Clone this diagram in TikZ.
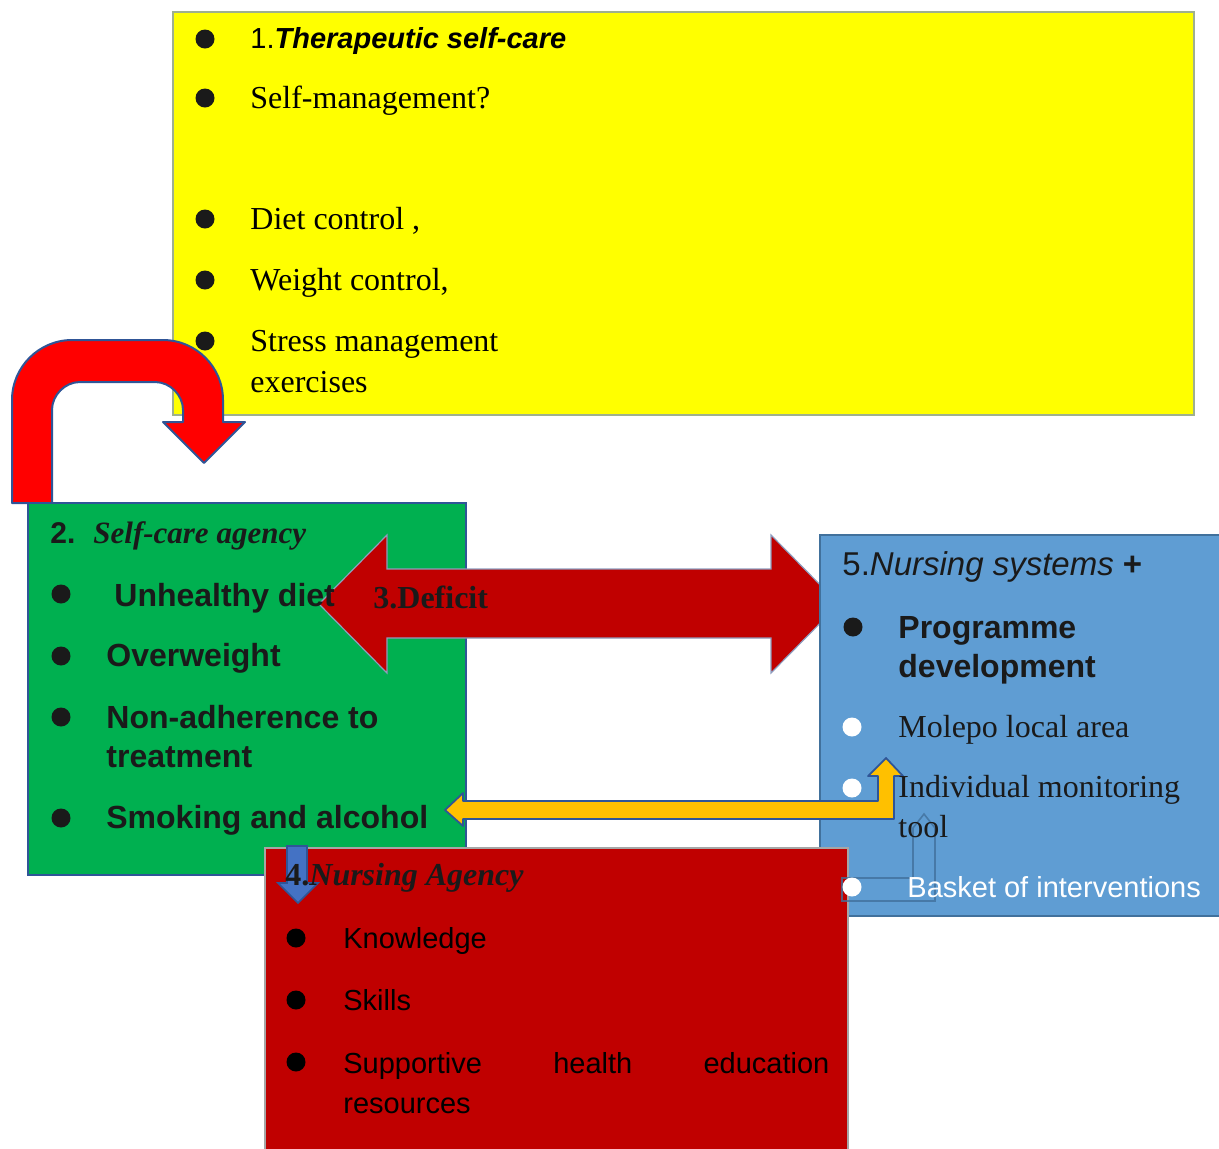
\documentclass[tikz,border=0pt]{standalone}
\usepackage{fontspec}
\setmainfont{Liberation Serif}
\setsansfont{Liberation Sans}
\definecolor{yellowfill}{HTML}{FFFF00}
\definecolor{yellowline}{HTML}{9FB08E}
\definecolor{uturnred}{HTML}{FF0000}
\definecolor{edgeblue}{HTML}{2F5597}
\definecolor{greenfill}{HTML}{00B050}
\definecolor{deficitred}{HTML}{C00000}
\definecolor{deficitline}{HTML}{8E9DBE}
\definecolor{bluefill}{HTML}{5F9DD3}
\definecolor{blueline}{HTML}{41719C}
\definecolor{orangefill}{HTML}{FFC000}
\definecolor{downblue}{HTML}{4472C4}
\definecolor{agencyline}{HTML}{A6A6A6}
\definecolor{inkdark}{HTML}{1A1A1A}

\begin{document}
\begin{tikzpicture}[x=0.5pt, y=-0.5pt,
    box/.style={line width=0.9pt},
    bul/.style={circle, fill=inkdark, inner sep=0pt, minimum size=9.5pt},
    wbul/.style={bul, fill=white},
    txt/.style={anchor=base west, inner sep=0pt, text=inkdark},
    ser/.style={txt, font=\fontsize{16}{19}\selectfont},
    sanb/.style={txt, font=\sffamily\bfseries\fontsize{16}{19}\selectfont},
    san/.style={txt, font=\sffamily\fontsize{14.5}{17}\selectfont}]

  \useasboundingbox (0,0) rectangle (1219,1148);

  \draw[box, fill=yellowfill, draw=yellowline, line width=0.6pt] (173,12) rectangle (1194,415);

  \draw[fill=uturnred, draw=edgeblue, line width=1pt, line join=round]
    (12,503) -- (12,400) .. controls (12,367) and (39,340) .. (72,340)
    -- (163,340) .. controls (196,340) and (223,367) .. (223,400)
    -- (223,422) -- (245,422) -- (204,463) -- (163,422) -- (183,422)
    -- (183,410) .. controls (183,395) and (170,382) .. (155,382)
    -- (80,382) .. controls (65,382) and (52,395) .. (52,410)
    -- (52,503) -- cycle;

  \node[bul] (b1) at (205,39) {};
  \node[txt, text=black, font=\sffamily\fontsize{14.5}{17}\selectfont] (therapeutic) at (250,48) {1.\textbf{\textit{Therapeutic self-care}}};
  \node[bul] (b2) at (205,98) {};
  \node[ser, text=black] (selfman) at (250,108) {Self-management?};
  \node[bul] (b3) at (205,219) {};
  \node[ser, text=black] (diet) at (250,229) {Diet control ,};
  \node[bul] (b4) at (205,280) {};
  \node[ser, text=black] (weight) at (250,290) {Weight control,};
  \node[bul] (b5) at (205,341) {};
  \node[ser, text=black] (stress) at (250,351) {Stress management};
  \node[ser, text=black] (exercises) at (250,392) {exercises};

  \draw[box, fill=greenfill, draw=edgeblue] (28,503) rectangle (466,875);

  \draw[fill=deficitred, draw=deficitline, line width=0.6pt]
    (319,604) -- (387,535) -- (387,569) -- (771,569) -- (771,535) -- (839,604)
    -- (771,673) -- (771,638) -- (387,638) -- (387,673) -- cycle;
  \node[txt, font=\bfseries\fontsize{16}{19}\selectfont] (deficit) at (373,608) {3.Deficit};

  \node[txt, font=\sffamily\bfseries\fontsize{15}{18}\selectfont] (num2) at (50,543) {2.};
  \node[txt, font=\bfseries\itshape\fontsize{15.5}{18}\selectfont] (selfcare) at (93,543) {Self-care agency};
  \node[bul] (g1) at (61,594) {};
  \node[sanb] (unhealthy) at (114,606) {Unhealthy diet};
  \node[bul] (g2) at (61,656) {};
  \node[sanb] (overweight) at (106,666) {Overweight};
  \node[bul] (g3) at (61,717) {};
  \node[sanb] (nonadh) at (106,728) {Non-adherence to};
  \node[sanb] (treatment) at (106,767) {treatment};
  \node[bul] (g4) at (61,818) {};
  \node[sanb] (smoking) at (106,828) {Smoking and alcohol};

  \draw[box, fill=bluefill, draw=blueline] (820,535) rectangle (1225,916);

  \draw[fill=orangefill, draw=edgeblue, line width=0.9pt, line join=round]
    (445,810) -- (463,793) -- (463,801) -- (878,801) -- (878,776) -- (868,776)
    -- (886,758) -- (903,776) -- (894,776) -- (894,819) -- (463,819) -- (463,826) -- cycle;

  \draw[fill=deficitred, draw=agencyline, line width=0.6pt] (265,848) rectangle (848,1152);

  \draw[fill=downblue, draw=edgeblue, line width=0.8pt]
    (287,846) -- (307,846) -- (307,883) -- (318,883) -- (298,903) -- (278,883) -- (287,883) -- cycle;
  \node[txt, font=\bfseries\fontsize{16}{19}\selectfont] (agency) at (285,885) {4.\textit{Nursing Agency}};
  \node[bul, fill=black] (r1) at (296,938) {};
  \node[san, text=black] (knowledge) at (343,948) {Knowledge};
  \node[bul, fill=black] (r2) at (296,1000) {};
  \node[san, text=black] (skills) at (343,1010) {Skills};
  \node[bul, fill=black] (r3) at (296,1062) {};
  \node[san, text=black] (supportive) at (343,1073) {\makebox[243pt][s]{Supportive health education}};
  \node[san, text=black] (resources) at (343,1113) {resources};

  \draw[blueline, opacity=0.8, line width=0.8pt]
    (842,878) -- (913,878) -- (913,828) -- (924,814) -- (935,828) -- (935,901) -- (842,901) -- cycle;

  \node[txt, font=\sffamily\fontsize{16.5}{19}\selectfont] (systems) at (842,575) {5.\textit{Nursing systems} \textbf{+}};
  \node[bul] (s1) at (853,627) {};
  \node[sanb] (programme) at (898,638) {Programme};
  \node[sanb] (development) at (898,677) {development};
  \node[wbul] (s2) at (852,727) {};
  \node[ser] (molepo) at (898,737) {Molepo local area};
  \node[wbul] (s3) at (852,788) {};
  \node[ser] (individual) at (898,797) {Individual monitoring};
  \node[ser] (tool) at (898,837) {tool};
  \node[wbul] (s4) at (852,887) {};
  \node[san, text=white] (basket) at (907,897) {Basket of interventions};
\end{tikzpicture}
\end{document}
